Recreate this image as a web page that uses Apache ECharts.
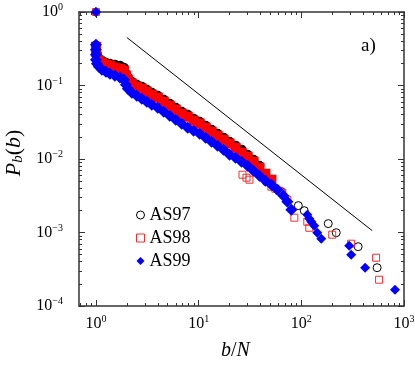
<!DOCTYPE html>
<html>
<head>
<meta charset="utf-8">
<script src="https://cdn.jsdelivr.net/npm/echarts@6/dist/echarts.min.js"></script>
<style>
  html, body { margin: 0; padding: 0; background: #fff; }
  #chart { width: 415px; height: 365px; }
</style>
</head>
<body>
<div id="chart"></div>
<script>
// major / minor tick values of the log axes
const xMajor = [1, 10, 100, 1000];
const xMinor = [0.7, 0.8, 0.9, 2, 3, 4, 5, 6, 7, 8, 9, 20, 30, 40, 50, 60, 70, 80, 90, 200, 300, 400, 500, 600, 700, 800, 900];
const yMajor = [0.0001, 0.001, 0.01, 0.1, 1];
const yMinor = [0.0002, 0.0003, 0.0004, 0.0005, 0.0006, 0.0007, 0.0008, 0.0009,
  0.002, 0.003, 0.004, 0.005, 0.006, 0.007, 0.008, 0.009,
  0.02, 0.03, 0.04, 0.05, 0.06, 0.07, 0.08, 0.09,
  0.2, 0.3, 0.4, 0.5, 0.6, 0.7, 0.8, 0.9];

// AS97: dense part (overlapping circles) and the sparse tail
const as97Dense = [[1.00,0.348],[1.023,0.2624],[1.069,0.2315],[1.144,0.2175],[1.251,0.2043],[1.368,0.1979],[1.529,0.1919],[1.710,0.1859],[1.870,0.1747],[1.956,0.1447],[2.045,0.1277],[2.236,0.1126],[2.501,0.1025],[2.797,0.0963],[3.127,0.0877],[3.498,0.0798],[4.000,0.0726],[4.573,0.0641],[5.228,0.0565],[5.979,0.0499],[6.839,0.0440],[7.822,0.0400],[8.944,0.0353],[10.23,0.0322],[11.70,0.0284],[13.37,0.0250],[15.29,0.0221],[17.48,0.0195],[20.0,0.0172],[22.87,0.0152],[26.16,0.0134],[29.91,0.01144],[34.2,0.00978],[39.1,0.00811]];
const as97Tail = [[1,1],[45.73,0.00491],[51.13,0.00476],[63.93,0.00359],[93.52,0.00232],[106.9,0.00198],[182.9,0.00132],[218.7,0.000994],[357.6,0.000641],[547.0,0.000332]];

// AS98
const as98Dense = [[1.00,0.337],[1.00,0.288],[1.023,0.2465],[1.069,0.2175],[1.144,0.2043],[1.251,0.1919],[1.368,0.1859],[1.529,0.1747],[1.710,0.1693],[1.870,0.1590],[1.956,0.1359],[2.045,0.1199],[2.236,0.1058],[2.501,0.0963],[2.797,0.0904],[3.127,0.0823],[3.498,0.0749],[4.000,0.0682],[4.573,0.0602],[5.228,0.0531],[5.979,0.0469],[6.839,0.0413],[7.822,0.0376],[8.944,0.0332],[10.23,0.0302],[11.70,0.0267],[13.37,0.0235],[15.29,0.0207],[17.48,0.0183],[20.0,0.0162],[22.87,0.0142],[26.16,0.01218],[29.91,0.01075],[34.2,0.00919],[39.1,0.00761],[44.72,0.00631],[51.13,0.00523]];
const as98Tail = [[1,1],[26.74,0.00611],[29.24,0.00557],[31.27,0.00523],[51.13,0.00420],[55.93,0.00394],[61.15,0.00370],[65.39,0.00348],[73.12,0.00279],[85.51,0.00159],[114.4,0.00140],[119.6,0.00116],[200.0,0.000934],[305.8,0.000704],[534.9,0.000454],[571.9,0.000228]];

// AS99
const as99Dense = [[1.00,0.359],[1.00,0.307],[1.00,0.262],[1.00,0.224],[1.023,0.198],[1.069,0.180],[1.144,0.164],[1.251,0.154],[1.368,0.145],[1.529,0.136],[1.710,0.128],[1.870,0.120],[1.956,0.1025],[2.045,0.0904],[2.236,0.0798],[2.501,0.0726],[2.797,0.0661],[3.127,0.0602],[3.498,0.0548],[4.000,0.0499],[4.573,0.0440],[5.228,0.0388],[5.979,0.0342],[6.839,0.0302],[7.822,0.0267],[8.944,0.0243],[10.23,0.0221],[11.70,0.0195],[13.37,0.0172],[15.29,0.0152],[17.48,0.0134],[20.0,0.01144],[22.87,0.01041],[26.16,0.00919],[29.91,0.00811],[34.2,0.00693],[39.1,0.00593],[44.72,0.00507],[51.13,0.00447],[58.48,0.00382],[66.87,0.00317],[73.12,0.00262],[79.97,0.00204]];
const as99Tail = [[1,1],[114.4,0.00175],[119.6,0.00154],[125.1,0.00140],[133.7,0.00124],[143.0,0.000994],[156.4,0.000823],[292.4,0.000661],[305.8,0.000499],[418.2,0.000332],[817.6,0.000167]];

// guide line (power law slope)
const guideLine = [[2, 0.45], [490, 0.00106]];

const serif = 'Liberation Serif';
const frame = '#333';

function powLabel(v) {
  const e = Math.round(Math.log10(v));
  return '{b|10}{e|' + (e < 0 ? '\u2212' + (-e) : e) + '}';
}
const powRich = {
  b: { fontFamily: serif, fontSize: 16, color: '#000' },
  e: { fontFamily: serif, fontSize: 10, color: '#000', padding: [0, 0, 9, 0] }
};

function logAxis(pos, min, max, major, minor, isMinor, showLabel, labelMargin) {
  return {
    type: 'log', position: pos, min: min, max: max,
    axisLine: { show: !isMinor, onZero: false, lineStyle: { color: frame, width: 1.5 } },
    axisTick: { show: true, inside: true, length: isMinor ? 3 : 6, customValues: isMinor ? minor : major,
      lineStyle: { color: frame, width: 1 } },
    minorTick: { show: false },
    axisLabel: { show: showLabel, customValues: major, formatter: powLabel, rich: powRich, margin: labelMargin || 8 },
    splitLine: { show: false }
  };
}

const xBottom = logAxis('bottom', 0.684, 1000, xMajor, xMinor, false, true, 8);
xBottom.name = '{i|b}{n|/}{i|N}';
xBottom.nameLocation = 'middle';
xBottom.nameGap = 35;
xBottom.nameTextStyle = { rich: {
  i: { fontFamily: serif, fontStyle: 'italic', fontSize: 20, color: '#000' },
  n: { fontFamily: serif, fontSize: 20, color: '#000' } }, padding: [0, 12, 0, 0] };

const yLeft = logAxis('left', 0.0001, 1, yMajor, yMinor, false, true, 16);
yLeft.name = '{i|P}{s|b}{n|(}{i|b}{n|)}';
yLeft.nameLocation = 'middle';
yLeft.nameGap = 53;
yLeft.nameTextStyle = { rich: {
  i: { fontFamily: serif, fontStyle: 'italic', fontSize: 22, color: '#000' },
  s: { fontFamily: serif, fontStyle: 'italic', fontSize: 15, color: '#000', padding: [8, 0, 0, 0] },
  n: { fontFamily: serif, fontSize: 22, color: '#000' } }, padding: [0, 0, 0, 12] };

const option = {
  animation: false,
  backgroundColor: '#fff',
  grid: { left: 79, top: 12, right: 11, bottom: 59, containLabel: false, outerBoundsMode: 'none' },
  xAxis: [
    xBottom,
    logAxis('bottom', 0.684, 1000, xMajor, xMinor, true, false),
    logAxis('top', 0.684, 1000, xMajor, xMinor, false, false),
    logAxis('top', 0.684, 1000, xMajor, xMinor, true, false)
  ],
  yAxis: [
    yLeft,
    logAxis('left', 0.0001, 1, yMajor, yMinor, true, false),
    logAxis('right', 0.0001, 1, yMajor, yMinor, false, false),
    logAxis('right', 0.0001, 1, yMajor, yMinor, true, false)
  ],
  legend: {
    data: ['AS97', 'AS98', 'AS99'],
    orient: 'vertical',
    left: 131, top: 201,
    itemWidth: 8, itemHeight: 8, itemGap: 5,
    itemStyle: { borderWidth: 1 },
    textStyle: { fontFamily: serif, fontSize: 18, color: '#000' }
  },
  graphic: [{
    type: 'text', left: 361, top: 37,
    style: { text: 'a)', fontFamily: serif, fontSize: 19, fill: '#000' }
  }],
  series: [
    { name: 'guide', type: 'line', data: guideLine, showSymbol: false,
      lineStyle: { color: '#000', width: 1 }, z: 1 },
    { name: 'AS97', type: 'scatter', data: as97Tail, symbol: 'circle', symbolSize: 8,
      itemStyle: { color: 'rgba(0,0,0,0)', borderColor: '#000', borderWidth: 1, opacity: 1 } },
    { name: 'AS97 dense', type: 'scatter', data: as97Dense, symbol: 'circle', symbolSize: 10,
      itemStyle: { color: '#000', opacity: 1 } },
    { name: 'AS98', type: 'scatter', data: as98Tail, symbol: 'rect', symbolSize: 7,
      itemStyle: { color: 'rgba(0,0,0,0)', borderColor: '#f03030', borderWidth: 1, opacity: 1 } },
    { name: 'AS98 dense', type: 'scatter', data: as98Dense, symbol: 'rect', symbolSize: 10,
      itemStyle: { color: '#ff0000', opacity: 1 } },
    { name: 'AS99', type: 'scatter', data: as99Tail, symbol: 'diamond', symbolSize: 10,
      itemStyle: { color: '#0000ff', opacity: 1 } },
    { name: 'AS99 dense', type: 'scatter', data: as99Dense, symbol: 'diamond', symbolSize: 12,
      itemStyle: { color: '#0000ff', opacity: 1 } }
  ]
};

const chart = echarts.init(document.getElementById('chart'), null, { renderer: 'canvas' });
chart.setOption(option);
</script>
</body>
</html>
